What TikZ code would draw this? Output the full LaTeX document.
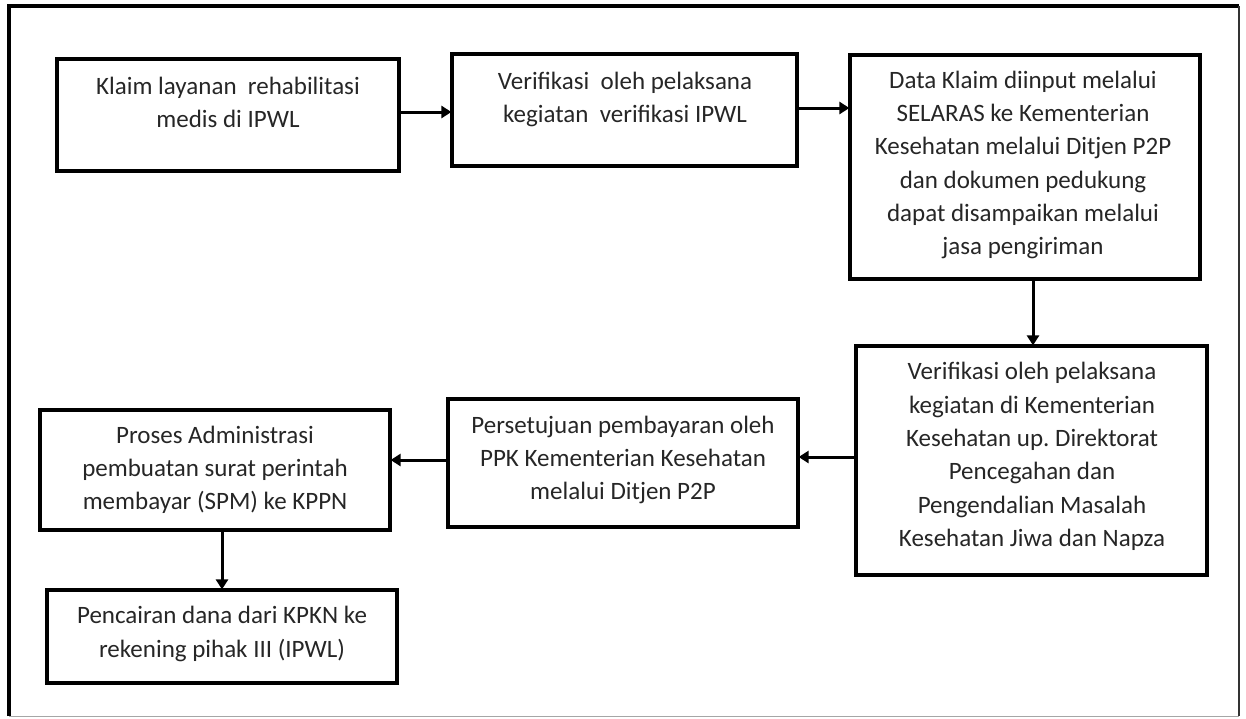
\documentclass[tikz,border=0pt]{standalone}
\usepackage{fontspec}
\setmainfont{Carlito}
\frenchspacing
\usetikzlibrary{arrows.meta,calc}
\tikzset{
  box/.style={draw=black, line width=3.2pt, rectangle, inner sep=0pt},
  txt/.style={align=center, text=black!85, inner sep=0pt, font=\fontsize{25}{33.3}\selectfont},
  arr/.style={line width=3pt, -{Triangle[length=10pt,width=12pt]}, shorten >=-1pt}
}
\newcommand{\mkbox}[5]{% name, x1, y1, x2, y2
  \node[box, minimum width={(#4-#2)*1pt}, minimum height={(#5-#3)*1pt}] (#1) at ({(#2+#4)/2},{(#3+#5)/2}) {};
}
\begin{document}
\begin{tikzpicture}[x=1pt,y=-1pt]
\useasboundingbox (0,0) rectangle (1246,718);
% outer frame
\draw[line width=3.2pt, black] (9,716) -- (9,6) -- (1239,6);
\draw[line width=2pt, black!80] (1239,6) -- (1239,716);
\draw[line width=1pt, black!35] (9,716) -- (1239,716);
% boxes
\mkbox{b1}{57}{59}{399}{171}
\mkbox{b2}{452}{54}{797}{166}
\mkbox{b3}{850}{55}{1200}{279}
\mkbox{b4}{856}{346}{1207}{575}
\mkbox{b5}{448}{399}{798}{527}
\mkbox{b6}{40}{410}{390}{530}
\mkbox{b7}{47}{590}{397}{683}
% texts
\node[txt] (t1) at (228,102.5) {Klaim layanan\ \ rehabilitasi\\medis di IPWL};
\node[txt] (t2) at (625,99.5) {Verifikasi\ \ oleh pelaksana\\kegiatan\ \ verifikasi IPWL};
\node[txt] (t3) at (1023,165) {Data Klaim diinput melalui\\SELARAS ke Kementerian\\Kesehatan melalui Ditjen P2P\\dan dokumen pedukung\\dapat disampaikan melalui\\jasa pengiriman};
\node[txt] (t4) at (1032,456.5) {Verifikasi oleh pelaksana\\kegiatan di Kementerian\\Kesehatan up. Direktorat\\Pencegahan dan\\Pengendalian Masalah\\Kesehatan Jiwa dan Napza};
\node[txt] (t5) at (623,460) {Persetujuan pembayaran oleh\\PPK Kementerian Kesehatan\\melalui Ditjen P2P};
\node[txt] (t6) at (215,470) {Proses Administrasi\\pembuatan surat perintah\\membayar (SPM) ke KPPN};
\node[txt] (t7) at (222,634) {Pencairan dana dari KPKN ke\\rekening pihak III (IPWL)};
% arrows
\draw[arr] ([yshift=3pt]b1.east) -- ([yshift=3pt]b1.east -| b2.west);
\draw[arr] ([yshift=2pt]b2.east) -- ([yshift=2pt]b2.east -| b3.west);
\draw[arr] ([xshift=8pt]b3.south) -- ([xshift=8pt]b3.south |- b4.north);
\draw[arr] ([yshift=3.5pt]b4.west) -- ([yshift=3.5pt]b4.west -| b5.east);
\draw[arr] ([yshift=3pt]b5.west) -- ([yshift=3pt]b5.west -| b6.east);
\draw[arr] ([xshift=7pt]b6.south) -- ([xshift=7pt]b6.south |- b7.north);
\end{tikzpicture}
\end{document}
